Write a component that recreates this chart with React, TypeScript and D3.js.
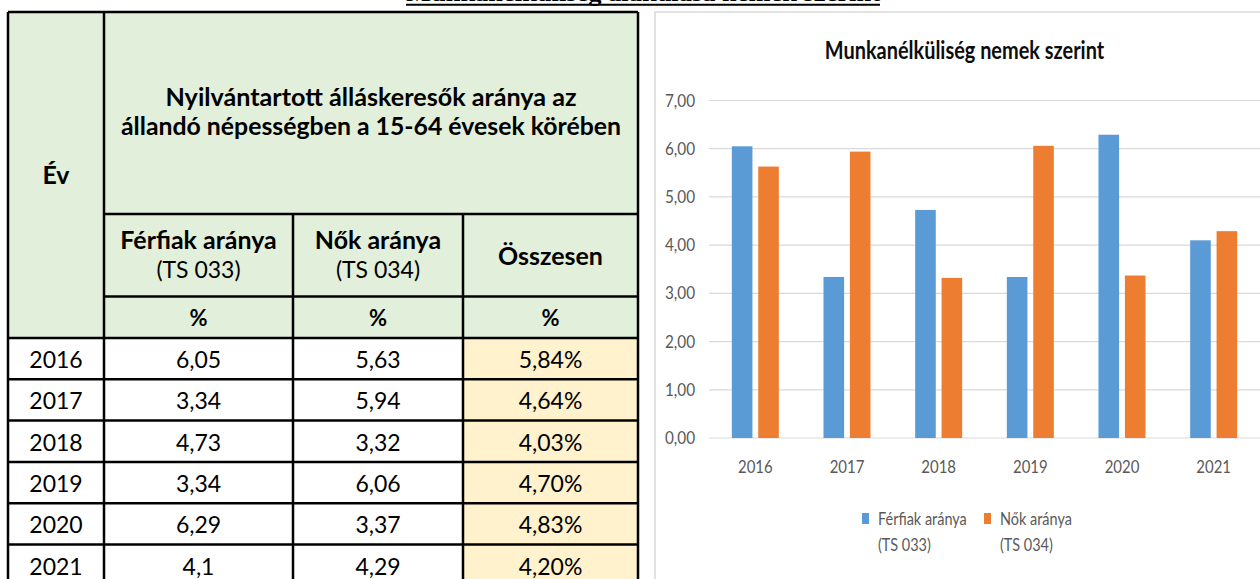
import React from 'react';
import * as d3 from 'd3';

// ---- data ----
const years = ['2016', '2017', '2018', '2019', '2020', '2021'];
const menRate = [6.05, 3.34, 4.73, 3.34, 6.29, 4.1];
const womenRate = [5.63, 5.94, 3.32, 6.06, 3.37, 4.29];
const totalRate = [5.84, 4.64, 4.03, 4.7, 4.83, 4.2];
const seriesNames = ['Férfiak aránya', 'Nők aránya'];
const seriesCodes = ['(TS 033)', '(TS 034)'];
const seriesColors = ['#5B9BD5', '#ED7D31'];
const yTicks = [0, 1, 2, 3, 4, 5, 6, 7];
const pageTitle = 'Munkanélküliség alakulása nemek szerint';
const chartTitle = 'Munkanélküliség nemek szerint';
const tableHeader = ['Nyilvántartott álláskeresők aránya az', 'állandó népességben a 15-64 évesek körében'];
const yearHeader = 'Év';
const totalHeader = 'Összesen';
const unitLabel = '%';

const FONT = 'Lato, "Open Sans", sans-serif';
const comma = (s: string) => s.replace('.', ',');
const fmt2 = d3.format('.2f');

const T = ({ x, y, sx = 1, anchor = 'middle', size, weight = 400, fill = '#000', children, tl }: any) => (
  <text
    transform={`translate(${x},${y}) scale(${sx},1)`}
    textAnchor={anchor}
    fontFamily={FONT}
    fontSize={size}
    fontWeight={weight}
    fill={fill}
    textLength={tl}
    lengthAdjust={tl ? 'spacingAndGlyphs' : undefined}
  >
    {children}
  </text>
);

export default function App() {
  const W = 1260, H = 579;
  // table layout
  const colX = [8, 104, 293, 463, 638];
  const topY = 12, subY = 214, pctY = 296.5, dataY = 338, rowH = 41.3;
  const rowYs = years.map((_, i) => dataY + i * rowH);
  const colC = (i: number) => (colX[i] + colX[i + 1]) / 2;
  const lineW = 2.5;
  const hs = 24; // header bold size
  const hsx = 1.04;

  // chart layout
  const x0 = d3.scaleBand<string>().domain(years).range([709.5, 1259.5]);
  const groupW = 47;
  const x1 = d3.scaleBand<string>().domain(seriesNames).range([0, groupW]).paddingInner(0.22);
  const y = d3.scaleLinear().domain([0, 7]).range([438, 100.5]);
  const values = [menRate, womenRate];

  return (
    <div style={{ position: 'absolute', left: 0, top: 0 }}>
      <svg width={W} height={H} style={{ display: 'block', background: '#fff' }}>
        {/* page title, cut off at top as in the source */}
        <text x={643} y={0.5} textAnchor="middle" fontFamily='"Liberation Serif", serif' fontWeight={700} fontSize={24}
          textLength={474} lengthAdjust="spacingAndGlyphs">{pageTitle}</text>
        <line x1={406} x2={880} y1={4.8} y2={4.8} stroke="#000" strokeWidth={2} />

        {/* ---- table ---- */}
        <rect x={colX[0]} y={topY} width={colX[4] - colX[0]} height={dataY - topY} fill="#E2EFDA" />
        <rect x={colX[0]} y={dataY} width={colX[4] - colX[0]} height={H - dataY} fill="#fff" />
        <rect x={colX[3]} y={dataY} width={colX[4] - colX[3]} height={H - dataY} fill="#FFF2CC" />

        <g stroke="#000" strokeWidth={lineW}>
          <line x1={colX[0]} x2={colX[4]} y1={topY} y2={topY} />
          <line x1={colX[0]} x2={colX[0]} y1={topY} y2={H + 5} />
          <line x1={colX[1]} x2={colX[1]} y1={topY} y2={H + 5} />
          <line x1={colX[4]} x2={colX[4]} y1={topY} y2={H + 5} />
          <line x1={colX[2]} x2={colX[2]} y1={subY} y2={H + 5} />
          <line x1={colX[3]} x2={colX[3]} y1={subY} y2={H + 5} />
          <line x1={colX[1]} x2={colX[4]} y1={subY} y2={subY} />
          <line x1={colX[1]} x2={colX[4]} y1={pctY} y2={pctY} />
          {rowYs.map((ry, i) => (
            <line key={i} x1={colX[0]} x2={colX[4]} y1={ry} y2={ry} />
          ))}
        </g>

        <T x={(colX[1] + colX[4]) / 2} y={106} size={hs} weight={700} tl={411}>{tableHeader[0]}</T>
        <T x={(colX[1] + colX[4]) / 2} y={135} size={hs} weight={700} tl={500}>{tableHeader[1]}</T>
        <T x={colC(0)} y={184} size={hs} weight={700} sx={hsx}>{yearHeader}</T>
        {seriesNames.map((s, i) => (
          <g key={s}>
            <T x={colC(i + 1)} y={249} size={hs} weight={700} sx={hsx}>{s}</T>
            <T x={colC(i + 1)} y={278} size={23}>{seriesCodes[i]}</T>
          </g>
        ))}
        <T x={colC(3)} y={265} size={hs} weight={700} sx={hsx}>{totalHeader}</T>
        {[1, 2, 3].map((c) => (
          <T key={c} x={colC(c)} y={326} size={22} weight={700}>{unitLabel}</T>
        ))}
        {years.map((yr, i) => (
          <g key={yr}>
            <T x={colC(0)} y={rowYs[i] + 30} size={23}>{yr}</T>
            <T x={colC(1)} y={rowYs[i] + 30} size={23}>{comma(String(menRate[i]))}</T>
            <T x={colC(2)} y={rowYs[i] + 30} size={23}>{comma(String(womenRate[i]))}</T>
            <T x={colC(3)} y={rowYs[i] + 30} size={23}>{comma(fmt2(totalRate[i])) + '%'}</T>
          </g>
        ))}

        {/* ---- chart ---- */}
        <rect x={655} y={12} width={800} height={700} fill="#fff" stroke="#D9D9D9" strokeWidth={1.5} />
        <T x={964.5} y={59} size={24} weight={700} sx={0.83} fill="#0d0d0d">{chartTitle}</T>

        {yTicks.map((t) => (
          <g key={t}>
            <line x1={709} x2={1260} y1={y(t)} y2={y(t)} stroke="#D9D9D9" strokeWidth={1.2} />
            <T x={695} y={y(t) + 6} size={17} sx={0.9} anchor="end" fill="#595959">{comma(fmt2(t))}</T>
          </g>
        ))}

        {years.map((yr, i) => (
          <g key={yr} transform={`translate(${x0(yr)! + (x0.bandwidth() - groupW) / 2},0)`}>
            {seriesNames.map((s, k) => (
              <rect key={s} x={x1(s)} y={y(values[k][i])} width={x1.bandwidth()} height={y(0) - y(values[k][i])} fill={seriesColors[k]} />
            ))}
          </g>
        ))}
        {years.map((yr) => (
          <T key={yr} x={x0(yr)! + x0.bandwidth() / 2} y={473} size={17} sx={0.88} fill="#595959">{yr}</T>
        ))}

        {/* legend */}
        {seriesNames.map((s, k) => {
          const lx = [862, 984][k];
          return (
            <g key={s}>
              <rect x={lx} y={513} width={7} height={11} fill={seriesColors[k]} />
              <T x={lx + 16} y={525} size={17} sx={0.85} anchor="start" fill="#595959">{s}</T>
              <T x={lx + 16} y={551} size={17} sx={0.85} anchor="start" fill="#595959">{seriesCodes[k]}</T>
            </g>
          );
        })}
      </svg>
    </div>
  );
}
